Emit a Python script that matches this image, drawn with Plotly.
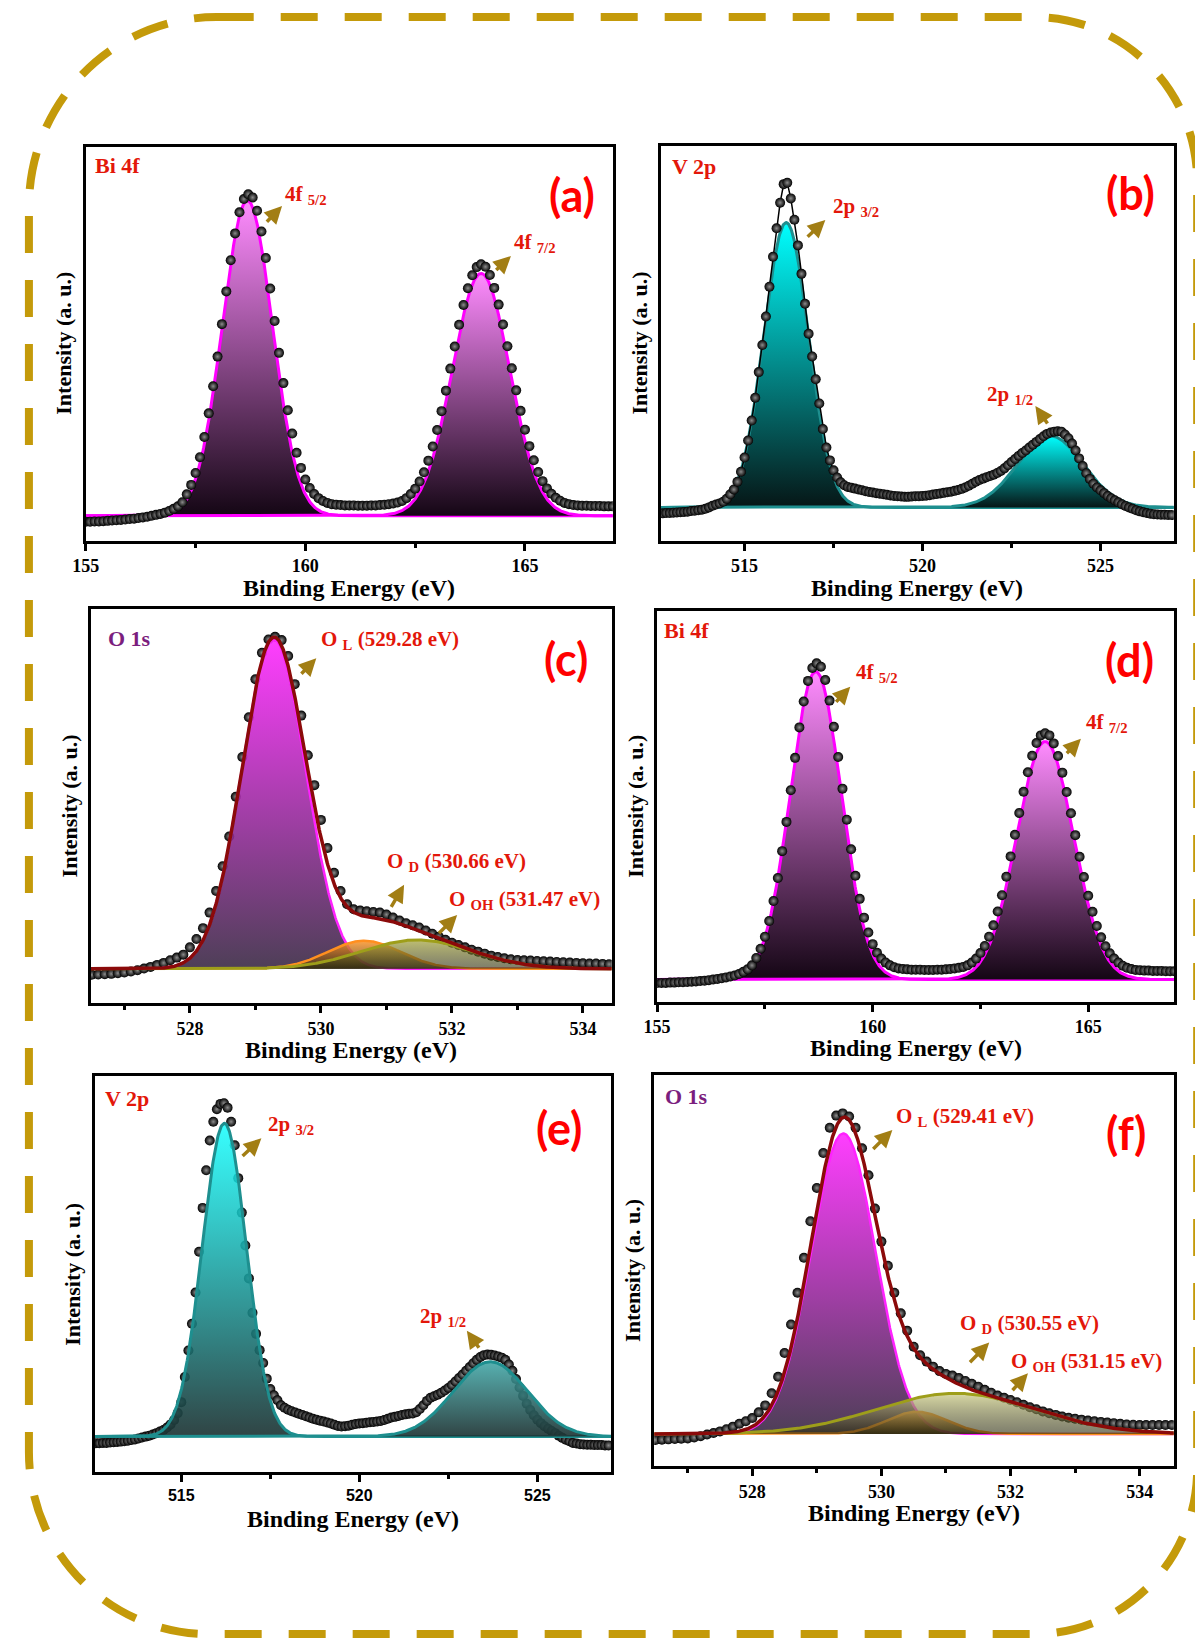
import numpy as np
import plotly.graph_objects as go

W, H = 1203, 1638
PAGE_OFFSET = 8   # the browser body margin shifts the figure by this many pixels
STEP = 0.1        # eV spacing of the measured points

# ---------------- (a) Bi 4f ----------------
a_start = 155.0
a_counts = [
    -1.9, -1.9, -1.8, -1.8, -1.7, -1.6, -1.5, -1.4, -1.3, -1.2,
    -1.0, -0.9, -0.7, -0.5, -0.3, 0.0, 0.3, 0.6, 1.0, 1.5,
    2.2, 3.0, 4.3, 6.8, 9.8, 13.6, 18.6, 25.0, 32.5, 41.1,
    50.5, 60.8, 71.2, 81.1, 89.6, 96.3, 100.5, 102.0, 101.0, 96.8,
    90.2, 81.8, 72.1, 61.8, 51.7, 42.1, 33.5, 26.1, 20.0, 15.2,
    11.5, 8.8, 6.9, 5.6, 4.7, 4.1, 3.7, 3.5, 3.4, 3.3,
    3.3, 3.3, 3.2, 3.2, 3.2, 3.3, 3.3, 3.4, 3.5, 3.7,
    3.9, 4.2, 4.7, 5.6, 6.9, 8.6, 10.9, 13.8, 17.5, 22.0,
    27.2, 33.2, 39.7, 46.7, 53.7, 60.6, 66.9, 72.2, 76.3, 78.9,
    79.8, 79.0, 76.4, 72.3, 67.0, 60.7, 53.8, 46.8, 39.8, 33.3,
    27.3, 22.1, 17.6, 13.9, 11.0, 8.7, 7.0, 5.7, 4.8, 4.1,
    3.7, 3.4, 3.3, 3.2, 3.2, 3.1, 3.1, 3.1, 3.0, 3.0, 3.0]
a_fit_centers = [158.68, 164.00]
a_fit_heights = [100.0, 76.9]
a_fit_fwhm = [1.34, 1.53]

# ---------------- (b) V 2p ----------------
b_start = 512.7
b_counts = [
    -2.1, -2.0, -2.0, -1.9, -1.8, -1.7, -1.6, -1.5, -1.3, -1.2, -1.0, -0.8, -0.5,
    0.0, 0.6, 1.0, 1.4, 2.0, 3.0, 4.6, 6.3, 9.0, 12.5,
    17.5, 23.5, 30.5, 38.5, 47.5, 57.0, 67.0, 77.5, 88.0, 98.0,
    107.0, 113.5, 114.0, 108.5, 101.0, 92.0, 82.0, 71.5, 61.0, 53.0,
    45.0, 36.5, 27.5, 21.0, 16.5, 13.0, 10.5, 8.8, 7.8, 7.2,
    6.9, 6.6, 6.3, 6.0, 5.7, 5.4, 5.2, 5.0, 4.8, 4.6,
    4.4, 4.2, 4.0, 3.9, 3.8, 3.7, 3.7, 3.8, 3.9, 3.9,
    4.0, 4.1, 4.3, 4.5, 4.7, 4.9, 5.1, 5.3, 5.5, 5.8,
    6.1, 6.5, 7.0, 7.6, 8.3, 9.0, 9.6, 10.1, 10.6, 11.0,
    11.5, 12.1, 12.8, 13.7, 14.8, 15.9, 17.0, 18.1, 19.1, 20.0,
    21.0, 22.0, 23.0, 24.0, 25.0, 25.8, 26.3, 26.6, 26.7, 26.6,
    25.6, 24.3, 22.4, 20.0, 17.2, 14.5, 12.0, 10.0, 8.3, 7.0,
    6.0, 5.0, 4.0, 3.2, 2.5, 1.8, 1.1, 0.5, 0.0, -0.5,
    -1.0, -1.4, -1.7, -2.0, -2.2, -2.4, -2.5, -2.6, -2.6, -2.7, -2.7]
b_fit_centers = [516.17, 523.59]
b_fit_heights = [100.0, 25.1]
b_fit_fwhm = [1.48, 2.17]

# ---------------- (c) O 1s ----------------
c_start = 526.5
c_counts = [
    -1.8, -1.7, -1.6, -1.5, -1.3,
    -1.1, -0.8, -0.4, 0.1, 0.6, 1.2, 1.8, 2.6, 3.4, 4.3,
    6.5, 9.0, 12.3, 17.0, 23.5, 31.0, 40.0, 52.0, 64.0, 76.0,
    87.5, 95.5, 99.5, 100.3, 99.3, 94.5, 86.0, 76.5, 64.5, 55.5,
    45.0, 36.5, 29.0, 23.5, 19.5, 18.0, 17.6, 17.4, 17.2, 17.0,
    16.4, 15.5, 14.6, 13.8, 13.2, 12.5, 11.6, 10.6, 9.7, 8.8,
    7.9, 7.2, 6.5, 5.8, 5.2, 4.6, 4.0, 3.6, 3.2, 2.9,
    2.7, 2.6, 2.5, 2.4, 2.3, 2.2, 2.1, 2.0, 1.9, 1.8,
    1.7, 1.6, 1.6, 1.5, 1.4]
c_fit_centers = [529.28, 530.66, 531.47]
c_fit_heights = [99.5, 8.5, 8.75]
c_fit_fwhm = [1.15, 1.30, 2.00]

# ---------------- (d) Bi 4f ----------------
d_start = 155.0
d_counts = [
    -1.1, -1.1, -1.1, -1.0, -1.0, -0.9, -0.9, -0.8, -0.7, -0.6,
    -0.5, -0.4, -0.2, 0.0, 0.2, 0.4, 0.7, 1.0, 1.3, 1.8,
    2.5, 3.3, 4.6, 7.0, 10.0, 13.9, 19.0, 25.5, 33.0, 41.7,
    51.2, 61.5, 72.0, 81.9, 90.3, 97.0, 101.2, 102.7, 101.6, 97.3,
    90.6, 82.1, 72.3, 62.0, 51.9, 42.3, 33.7, 26.2, 20.1, 15.3,
    11.5, 8.7, 6.8, 5.5, 4.6, 4.0, 3.6, 3.4, 3.3, 3.2,
    3.2, 3.2, 3.1, 3.1, 3.1, 3.2, 3.2, 3.3, 3.4, 3.6,
    3.8, 4.1, 4.6, 5.5, 6.8, 8.6, 10.9, 13.9, 17.6, 22.1,
    27.4, 33.4, 40.0, 47.0, 54.1, 61.0, 67.3, 72.7, 76.8, 79.3,
    80.0, 79.3, 76.7, 72.6, 67.2, 60.9, 54.0, 46.9, 39.9, 33.3,
    27.2, 22.0, 17.4, 13.7, 10.8, 8.5, 6.8, 5.5, 4.5, 3.8,
    3.4, 3.1, 3.0, 2.9, 2.9, 2.8, 2.8, 2.8, 2.7, 2.7, 2.7]
d_fit_centers = [158.68, 164.00]
d_fit_heights = [100.0, 77.3]
d_fit_fwhm = [1.39, 1.55]

# ---------------- (e) V 2p ----------------
e_start = 512.6
e_counts = [
    -2.1, -2.1, -2.0, -2.0, -1.9, -1.8, -1.7, -1.6, -1.5, -1.3, -1.1, -0.9, -0.6, -0.3,
    0.0, 0.3, 0.7, 1.1, 1.6, 2.1, 2.9, 3.9, 5.3, 7.5,
    11.0, 19.0, 27.5, 36.0, 46.0, 59.0, 73.0, 85.0, 94.5, 100.5,
    104.5, 106.2, 106.4, 105.0, 100.5, 93.0, 82.5, 71.5, 61.0, 50.5,
    39.5, 32.8, 27.6, 23.5, 18.5, 15.2, 13.2, 11.6, 10.0, 9.2,
    8.6, 8.1, 7.7, 7.3, 6.9, 6.5, 6.1, 5.7, 5.4, 5.1,
    4.8, 4.5, 4.2, 3.8, 3.4, 3.2, 3.3, 3.5, 3.8, 4.0,
    4.2, 4.3, 4.4, 4.6, 4.7, 4.8, 5.0, 5.3, 5.7, 6.1,
    6.3, 6.6, 6.9, 7.1, 7.3, 7.4, 7.8, 8.8, 10.0, 11.4,
    12.4, 12.9, 13.4, 14.0, 14.7, 15.5, 16.5, 17.6, 18.7, 19.8,
    21.0, 22.2, 23.4, 24.5, 25.4, 26.0, 26.2, 26.1, 25.9, 25.6,
    25.2, 24.5, 23.0, 21.0, 18.4, 15.7, 13.0, 10.5, 8.5, 6.8,
    5.4, 4.3, 3.3, 2.5, 1.8, 1.1, 0.3, -0.4, -1.0, -1.5,
    -2.0, -2.2, -2.4, -2.5, -2.6, -2.6, -2.7, -2.7, -2.7, -2.8, -2.8]
e_fit_centers = [516.21, 523.68]
e_fit_heights = [100.0, 23.9]
e_fit_fwhm = [1.46, 2.45]

# ---------------- (f) O 1s ----------------
f_start = 526.5
f_counts = [
    -1.9, -1.8, -1.7, -1.6, -1.5,
    -1.4, -1.1, -0.7, -0.2, 0.3, 0.8, 1.5, 2.3, 3.2, 4.0,
    5.0, 6.8, 9.0, 12.8, 18.0, 25.5, 34.5, 44.5, 55.5, 67.0,
    77.5, 88.5, 96.5, 100.3, 101.0, 100.0, 96.5, 90.0, 81.5, 71.0,
    60.6, 53.0, 44.5, 38.0, 32.5, 27.5, 24.8, 22.8, 21.2, 19.8,
    18.9, 18.4, 17.6, 16.7, 15.8, 14.9, 13.9, 13.0, 12.1, 11.4,
    10.7, 10.0, 9.2, 8.4, 7.8, 7.1, 6.5, 6.0, 5.5, 5.1,
    4.8, 4.5, 4.2, 4.0, 3.8, 3.6, 3.4, 3.2, 3.0, 2.9,
    2.8, 2.8, 2.8, 2.8, 2.8, 2.8]
f_fit_centers = [529.41, 530.55, 531.15]
f_fit_heights = [94.7, 7.0, 12.8]
f_fit_fwhm = [1.18, 1.10, 2.90]

# labels
bi_peak_names = ["4f <sub>5/2</sub>", "4f <sub>7/2</sub>"]
v_peak_names = ["2p <sub>3/2</sub>", "2p <sub>1/2</sub>"]
c_peak_names = ["O <sub>L</sub> (529.28 eV)", "O <sub>D</sub> (530.66 eV)", "O <sub>OH</sub> (531.47 eV)"]
f_peak_names = ["O <sub>L</sub> (529.41 eV)", "O <sub>D</sub> (530.55 eV)", "O <sub>OH</sub> (531.15 eV)"]

# ---------------- styling ----------------
SERIF = "Liberation Serif"
RED = "#E3170A"
PURPLE = "#7B1E7E"
ARROW = "#A27E14"
GOLD = "#C49A0A"

BI_LINE = "#FF00FF"
BI_FILL = [[0, "#140614"], [1, "#FF8CFF"]]
V_LINE = "#1E8F8F"
V_FILL = [[0, "#061616"], [1, "#00FFFF"]]
E_FILL1 = [[0, "rgba(30,52,52,0.92)"], [1, "rgba(20,255,255,0.85)"]]
E_FILL2 = [[0, "rgba(30,52,52,0.92)"], [1, "rgba(64,166,166,0.88)"]]
OL_LINE = "#FF22FF"
OL_FILL = [[0, "rgba(62,46,72,0.92)"], [1, "rgba(255,40,255,0.9)"]]
OD_LINE = "#FF8F1F"
OD_FILL = [[0, "rgba(70,50,15,0.75)"], [1, "rgba(255,150,40,0.85)"]]
OOH_LINE = "#9E9E1A"
OOH_FILL_C = [[0, "rgba(40,40,10,0.6)"], [1, "rgba(165,165,60,0.72)"]]
OOH_FILL_F = [[0, "rgba(40,40,10,0.6)"], [1, "rgba(205,205,135,0.75)"]]
ENV_LINE = "#8B0A0A"


def gauss(x, c, h, fwhm):
    return h * np.exp(-4.0 * np.log(2.0) * (x - c) ** 2 / fwhm ** 2)


panels = [
    dict(frame=(72.5, 146.7, 605.8, 540.7), xr=(155.0, 167.0), yr=(-7.9, 117.1),
         tick0=155, dtick=5, mdt=2.5, start=a_start, counts=a_counts,
         centers=a_fit_centers, heights=a_fit_heights, fwhm=a_fit_fwhm, kind="bi",
         elem="Bi 4f", ecol=RED, eoff=(7, 19), letter="(a)", lpos=(564, 195),
         names=bi_peak_names, tpos=[(159.5, 101.8), (164.7, 86.5)],
         arrows=[(159.09, 92.8, 159.47, 98.3), (164.31, 77.5, 164.68, 82.4)],
         tickfam=SERIF, tsize=18, xt=47, dline=0),
    dict(frame=(654.4, 146.0, 1173.4, 540.7), xr=(512.65, 527.06), yr=(-11.7, 126.9),
         tick0=515, dtick=5, mdt=2.5, start=b_start, counts=b_counts,
         centers=b_fit_centers, heights=b_fit_heights, fwhm=b_fit_fwhm, kind="v",
         elem="V 2p", ecol=RED, eoff=(9, 21), letter="(b)", lpos=(1130, 193),
         names=v_peak_names, tpos=[(517.43, 105.6), (521.76, 39.5)],
         arrows=[(516.73, 94.5, 517.27, 100.9), (523.54, 28.9, 523.17, 35.6)],
         tickfam=SERIF, tsize=18, xt=47, dline=1.5),
    dict(frame=(77.8, 609.0, 604.7, 1003.3), xr=(526.49, 534.44), yr=(-10.4, 108.7),
         tick0=528, dtick=2, mdt=1, start=c_start, counts=c_counts,
         centers=c_fit_centers, heights=c_fit_heights, fwhm=c_fit_fwhm, kind="o",
         elem="O 1s", ecol=PURPLE, eoff=(15, 29), letter="(c)", lpos=(558, 659),
         names=c_peak_names, tpos=[(529.97, 99.3), (530.98, 32.4), (531.93, 20.8)],
         arrows=[(529.68, 88.7, 529.93, 93.8), (531.06, 18.3, 531.27, 25.4),
                 (531.78, 10.3, 532.08, 16.3)],
         tickfam=SERIF, tsize=18, xt=47, ohfill=OOH_FILL_C, dline=0),
    dict(frame=(650.6, 611.0, 1174.0, 1001.7), xr=(155.0, 167.0), yr=(-7.2, 119.7),
         tick0=155, dtick=5, mdt=2.5, start=d_start, counts=d_counts,
         centers=d_fit_centers, heights=d_fit_heights, fwhm=d_fit_fwhm, kind="bi",
         elem="Bi 4f", ecol=RED, eoff=(5, 19), letter="(d)", lpos=(1129, 660),
         names=bi_peak_names, tpos=[(159.57, 99.5), (164.91, 83.2)],
         arrows=[(159.12, 89.7, 159.48, 95.1), (164.47, 73.0, 164.83, 78.2)],
         tickfam=SERIF, tsize=18, xt=46, dline=0),
    dict(frame=(81.6, 1076.0, 604.0, 1471.7), xr=(512.57, 527.07), yr=(-11.2, 115.1),
         tick0=515, dtick=5, mdt=2.5, start=e_start, counts=e_counts,
         centers=e_fit_centers, heights=e_fit_heights, fwhm=e_fit_fwhm, kind="v2",
         elem="V 2p", ecol=RED, eoff=(8, 22), letter="(e)", lpos=(551, 1128),
         names=v_peak_names, tpos=[(517.39, 99.5), (521.64, 38.3)],
         arrows=[(516.68, 89.1, 517.25, 95.2), (523.39, 27.9, 523.02, 33.8)],
         tickfam="Liberation Sans", tsize=16, xt=47, dline=0),
    dict(frame=(647.6, 1075.0, 1173.4, 1466.0), xr=(526.48, 534.53), yr=(-10.1, 113.1),
         tick0=528, dtick=2, mdt=1, start=f_start, counts=f_counts,
         centers=f_fit_centers, heights=f_fit_heights, fwhm=f_fit_fwhm, kind="o",
         elem="O 1s", ecol=PURPLE, eoff=(9, 21), letter="(f)", lpos=(1125, 1133),
         names=f_peak_names, tpos=[(530.2, 100.0), (531.19, 34.7), (531.98, 22.8)],
         arrows=[(529.85, 89.3, 530.17, 95.8), (531.35, 22.1, 531.67, 28.8),
                 (532.01, 13.3, 532.27, 19.1)],
         tickfam=SERIF, tsize=18, xt=47, ohfill=OOH_FILL_F, dline=0),
]


def pxx(x):
    return (x - PAGE_OFFSET) / W


def pxy(y):
    return 1 - (y - PAGE_OFFSET) / H


fig = go.Figure()
annotations = []
layout_axes = {}

for i, p in enumerate(panels, start=1):
    xa = "x" if i == 1 else f"x{i}"
    ya = "y" if i == 1 else f"y{i}"
    L, T, R, B = p["frame"]
    energies = p["start"] + STEP * np.arange(len(p["counts"]))
    xfit = np.linspace(p["xr"][0], p["xr"][1], 900)
    comps = [gauss(xfit, c, h, w) for c, h, w in zip(p["centers"], p["heights"], p["fwhm"])]

    data_trace = go.Scatter(
        x=energies, y=p["counts"], mode="lines+markers" if p["dline"] else "markers",
        xaxis=xa, yaxis=ya,
        line=dict(color="black", width=p["dline"] or 1),
        marker=dict(size=10, color="black", line=dict(width=0),
                    gradient=dict(type="radial", color="#8c8c8c")),
        showlegend=False, hoverinfo="skip")

    kind = p["kind"]
    if kind in ("bi", "v"):
        lc = BI_LINE if kind == "bi" else V_LINE
        fs = BI_FILL if kind == "bi" else V_FILL
        for comp in comps:
            fig.add_trace(go.Scatter(x=xfit, y=comp, mode="lines", xaxis=xa, yaxis=ya,
                                     line=dict(color=lc, width=3), fill="tozeroy",
                                     fillgradient=dict(type="vertical", colorscale=fs),
                                     showlegend=False, hoverinfo="skip"))
        fig.add_trace(data_trace)
    elif kind == "v2":
        fig.add_trace(data_trace)
        for comp, fs in zip(comps, [E_FILL1, E_FILL2]):
            fig.add_trace(go.Scatter(x=xfit, y=comp, mode="lines", xaxis=xa, yaxis=ya,
                                     line=dict(color=V_LINE, width=3), fill="tozeroy",
                                     fillgradient=dict(type="vertical", colorscale=fs),
                                     showlegend=False, hoverinfo="skip"))
    else:
        fig.add_trace(data_trace)
        styles = [(OL_LINE, OL_FILL, 2.5), (OD_LINE, OD_FILL, 2.5), (OOH_LINE, p["ohfill"], 3)]
        for comp, (lc, fs, lw) in zip(comps, styles):
            fig.add_trace(go.Scatter(x=xfit, y=comp, mode="lines", xaxis=xa, yaxis=ya,
                                     line=dict(color=lc, width=lw), fill="tozeroy",
                                     fillgradient=dict(type="vertical", colorscale=fs),
                                     showlegend=False, hoverinfo="skip"))
        envelope = np.sum(comps, axis=0)
        fig.add_trace(go.Scatter(x=xfit, y=envelope, mode="lines", xaxis=xa, yaxis=ya,
                                 line=dict(color=ENV_LINE, width=3.5),
                                 showlegend=False, hoverinfo="skip"))

    xkey = "xaxis" if i == 1 else f"xaxis{i}"
    ykey = "yaxis" if i == 1 else f"yaxis{i}"
    layout_axes[xkey] = dict(
        domain=[pxx(L), pxx(R)], anchor=ya, range=list(p["xr"]),
        showline=True, linecolor="black", linewidth=3, mirror=True,
        showgrid=False, zeroline=False,
        ticks="outside", ticklen=7, tickwidth=2.5, tickcolor="black",
        tick0=p["tick0"], dtick=p["dtick"],
        tickfont=dict(family=p["tickfam"], size=p["tsize"], color="black", weight="bold"),
        minor=dict(ticks="outside", ticklen=4, tickwidth=2.5, tickcolor="black",
                   dtick=p["mdt"], tick0=p["tick0"], showgrid=False),
    )
    layout_axes[ykey] = dict(
        domain=[pxy(B), pxy(T)], anchor=xa, range=list(p["yr"]),
        showline=True, linecolor="black", linewidth=3, mirror=True,
        showgrid=False, zeroline=False, showticklabels=False, ticks="",
    )

    # element label
    annotations.append(dict(text=f"<b>{p['elem']}</b>", xref="paper", yref="paper",
                            x=pxx(L + p["eoff"][0]), y=pxy(T + p["eoff"][1]),
                            xanchor="left", yanchor="middle", showarrow=False,
                            font=dict(family=SERIF, size=22, color=p["ecol"])))
    # panel letter
    annotations.append(dict(text=f"<b>{p['letter']}</b>", xref="paper", yref="paper",
                            x=pxx(p["lpos"][0]), y=pxy(p["lpos"][1]),
                            xanchor="center", yanchor="middle", showarrow=False,
                            font=dict(family="Lato", size=45, color="#FF0000")))
    # peak labels
    for name, (tx, ty) in zip(p["names"], p["tpos"]):
        annotations.append(dict(text=f"<b>{name}</b>", xref=xa, yref=ya, x=tx, y=ty,
                                xanchor="left", yanchor="middle", showarrow=False,
                                font=dict(family=SERIF, size=21, color=RED)))
    for (tx0, ty0, hx, hy) in p["arrows"]:
        annotations.append(dict(text="", xref=xa, yref=ya, x=hx, y=hy,
                                axref=xa, ayref=ya, ax=tx0, ay=ty0, showarrow=True,
                                arrowhead=2, arrowsize=1.0, arrowwidth=3.5,
                                arrowcolor=ARROW))
    # axis titles
    annotations.append(dict(text="<b>Binding Energy (eV)</b>", xref="paper", yref="paper",
                            x=pxx((L + R) / 2), y=pxy(B + p["xt"]), xanchor="center",
                            yanchor="middle", showarrow=False,
                            font=dict(family=SERIF, size=24, color="black")))
    annotations.append(dict(text="<b>Intensity (a. u.)</b>", xref="paper", yref="paper",
                            x=pxx(L - 22), y=pxy((T + B) / 2), xanchor="center",
                            yanchor="middle", textangle=-90, showarrow=False,
                            font=dict(family=SERIF, size=22, color="black")))

# dashed rounded border (reference pixel coordinates)
bx0, by0, bx1, by1 = 15, 17, 1197, 1634
r_tl, r_tr, r_br, r_bl = 190, 165, 165, 182
k = 0.5523


def P(x, y):
    return f"{pxx(x):.6f},{pxy(y):.6f}"


path = (
    f"M {P(bx0 + r_tl, by0)} L {P(bx1 - r_tr, by0)} "
    f"C {P(bx1 - r_tr + k * r_tr, by0)} {P(bx1, by0 + r_tr - k * r_tr)} {P(bx1, by0 + r_tr)} "
    f"L {P(bx1, by1 - r_br)} "
    f"C {P(bx1, by1 - r_br + k * r_br)} {P(bx1 - r_br + k * r_br, by1)} {P(bx1 - r_br, by1)} "
    f"L {P(bx0 + r_bl, by1)} "
    f"C {P(bx0 + r_bl - k * r_bl, by1)} {P(bx0, by1 - r_bl + k * r_bl)} {P(bx0, by1 - r_bl)} "
    f"L {P(bx0, by0 + r_tl)} "
    f"C {P(bx0, by0 + r_tl - k * r_tl)} {P(bx0 + r_tl - k * r_tl, by0)} {P(bx0 + r_tl, by0)} Z"
)

fig.update_layout(
    width=W, height=H, autosize=False,
    margin=dict(l=0, r=0, t=0, b=0, pad=0),
    paper_bgcolor="white", plot_bgcolor="white",
    showlegend=False,
    annotations=annotations,
    shapes=[dict(type="path", path=path, xref="paper", yref="paper",
                 line=dict(color=GOLD, width=8, dash="37px,27px"),
                 fillcolor="rgba(0,0,0,0)", layer="above")],
    **layout_axes,
)

fig.write_html("out.html")
